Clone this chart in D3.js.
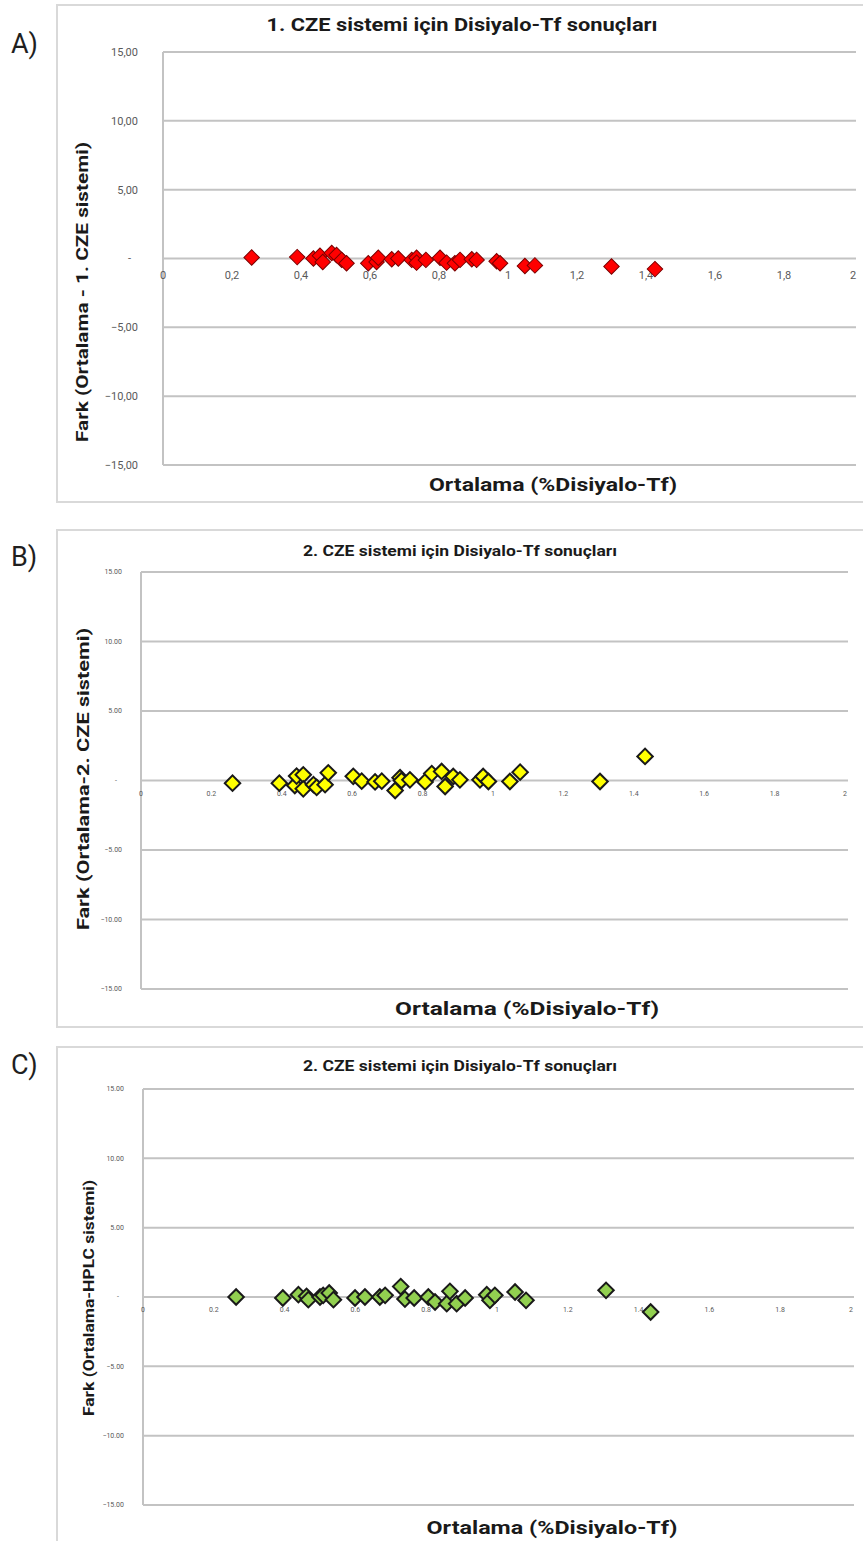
<!DOCTYPE html>
<html lang="tr">
<head>
    <meta charset="UTF-8">
    <script src="https://d3js.org/d3.v7.min.js"></script>
    <title>Disiyalo-Tf fark grafikleri</title>
    <style>
        body { margin: 0; background: #fff; }
        text { font-family: Roboto, "Open Sans", sans-serif; }
    </style>
</head>
<body>
    <div id="chart"></div>
    <script>
        // Data
        const yTicks = [-15, -10, -5, 0, 5, 10, 15];
        const xTicks = [0, 0.2, 0.4, 0.6, 0.8, 1, 1.2, 1.4, 1.6, 1.8, 2];

        const xA = [0.257, 0.389, 0.436, 0.455, 0.463, 0.489, 0.503, 0.518, 0.532, 0.595, 0.619, 0.624, 0.663, 0.682, 0.721,
            0.735, 0.735, 0.762, 0.803, 0.822, 0.846, 0.861, 0.895, 0.909, 0.967, 0.977, 1.049, 1.078, 1.300, 1.426];
        const yA = [0.07, 0.10, 0.00, 0.20, -0.25, 0.40, 0.25, -0.10, -0.35, -0.35, -0.25, 0.05, -0.05, 0.00, -0.10,
            0.05, -0.30, -0.10, 0.05, -0.30, -0.35, -0.10, -0.05, -0.10, -0.20, -0.35, -0.55, -0.50, -0.58, -0.77];

        const xB = [0.26, 0.393, 0.437, 0.442, 0.461, 0.461, 0.49, 0.499, 0.523, 0.532, 0.603, 0.627, 0.665, 0.684, 0.722,
            0.736, 0.74, 0.764, 0.807, 0.826, 0.854, 0.864, 0.887, 0.906, 0.963, 0.972, 0.987, 1.048, 1.077, 1.304, 1.432];
        const yB = [-0.19, -0.19, -0.36, 0.32, 0.41, -0.6, -0.3, -0.5, -0.3, 0.55, 0.3, -0.05, -0.1, -0.05, -0.72,
            0.2, 0.0, 0.05, -0.1, 0.5, 0.65, -0.43, 0.29, 0.05, 0.05, 0.29, -0.07, -0.07, 0.6, -0.07, 1.73];

        const xC = [0.263, 0.395, 0.439, 0.462, 0.467, 0.5, 0.509, 0.526, 0.538, 0.599, 0.627, 0.669, 0.684, 0.728, 0.74,
            0.766, 0.806, 0.825, 0.858, 0.867, 0.886, 0.91, 0.971, 0.98, 0.994, 1.051, 1.082, 1.308, 1.434];
        const yC = [0, -0.07, 0.17, 0.05, -0.19, 0, 0.12, 0.29, -0.19, -0.07, 0, 0, 0.12, 0.75, -0.15,
            -0.07, 0, -0.36, -0.48, 0.41, -0.48, -0.07, 0.17, -0.24, 0.12, 0.36, -0.24, 0.48, -1.08];

        const width = 863;
        const height = 1541;

        // Panel layout (positions and styles only)
        const panels = [
            {
                label: "A)", labelY: 53,
                title: "1. CZE sistemi için Disiyalo-Tf sonuçları",
                yTitle: "Fark (Ortalama - 1. CZE sistemi)",
                xs: xA, ys: yA,
                frame: [57, 5, 820, 497],
                plot: { left: 163, right: 853, top: 52, bottom: 465 },
                titleY: 31, titleX: 462, titleLen: 391, titleSize: 18,
                yTitleX: 88, yTitleY: 292, yTitleLen: 300, yTitleSize: 17,
                xTitleX: 553, xTitleY: 491, xTitleLen: 248,
                tickSize: 11, tickDec: ",", tickGap: 25, zeroGap: 32, xLabelDy: 20,
                fill: "#ff0000", stroke: "#7a0000", strokeW: 1
            },
            {
                label: "B)", labelY: 566,
                title: "2. CZE sistemi için Disiyalo-Tf sonuçları",
                yTitle: "Fark (Ortalama-2. CZE sistemi)",
                xs: xB, ys: yB,
                frame: [57, 530, 820, 497],
                plot: { left: 141, right: 845, top: 572, bottom: 989 },
                titleY: 556, titleX: 460, titleLen: 314, titleSize: 14,
                yTitleX: 89, yTitleY: 779, yTitleLen: 302, yTitleSize: 17,
                xTitleX: 527, xTitleY: 1015, xTitleLen: 264,
                tickSize: 7, tickDec: ".", tickGap: 19, zeroGap: 24, xLabelDy: 15,
                fill: "#ffff00", stroke: "#1a1a1a", strokeW: 2
            },
            {
                label: "C)", labelY: 1074,
                title: "2. CZE sistemi için Disiyalo-Tf sonuçları",
                yTitle: "Fark (Ortalama-HPLC sistemi)",
                xs: xC, ys: yC,
                frame: [57, 1047, 820, 510],
                plot: { left: 143, right: 851, top: 1089, bottom: 1505 },
                titleY: 1071, titleX: 460, titleLen: 314, titleSize: 14,
                yTitleX: 94, yTitleY: 1298, yTitleLen: 236, yTitleSize: 14.5,
                xTitleX: 552, xTitleY: 1534, xTitleLen: 251,
                tickSize: 7, tickDec: ".", tickGap: 19, zeroGap: 24, xLabelDy: 15,
                fill: "#92d050", stroke: "#1a1a1a", strokeW: 2
            }
        ];

        const svg = d3.select("#chart")
            .append("svg")
            .attr("width", width)
            .attr("height", height);

        svg.append("rect")
            .attr("width", width)
            .attr("height", height)
            .attr("fill", "#fff");

        const diamond = d3.symbol().type(d3.symbolSquare).size(120);

        panels.forEach(p => {
            const g = svg.append("g");

            // Frame of the chart area
            g.append("rect")
                .attr("x", p.frame[0])
                .attr("y", p.frame[1])
                .attr("width", p.frame[2])
                .attr("height", p.frame[3])
                .attr("fill", "#fff")
                .attr("stroke", "#d9d9d9")
                .attr("stroke-width", 2);

            // Panel letter
            svg.append("text")
                .attr("x", 11)
                .attr("y", p.labelY)
                .style("font-size", "27px")
                .style("fill", "#1f1f1f")
                .text(p.label);

            const x = d3.scaleLinear().domain([0, 2]).range([p.plot.left, p.plot.right]);
            const y = d3.scaleLinear().domain([-15, 15]).range([p.plot.bottom, p.plot.top]);

            const fmt = v => v === 0 ? "-" : d3.format(".2f")(v).replace(".", p.tickDec);
            const fmtX = v => d3.format("~g")(v).replace(".", p.tickDec);

            // Horizontal gridlines
            g.selectAll(".grid")
                .data(yTicks)
                .enter().append("line")
                .attr("x1", p.plot.left)
                .attr("x2", p.plot.right + 3)
                .attr("y1", d => y(d))
                .attr("y2", d => y(d))
                .attr("stroke", "#c3c3c3")
                .attr("stroke-width", 2);

            // Vertical axis line
            g.append("line")
                .attr("x1", x(0))
                .attr("x2", x(0))
                .attr("y1", y(15))
                .attr("y2", y(-15))
                .attr("stroke", "#c3c3c3")
                .attr("stroke-width", 2);

            // Y tick labels
            g.selectAll(".ytick")
                .data(yTicks)
                .enter().append("text")
                .attr("x", d => d === 0 ? p.plot.left - p.zeroGap : p.plot.left - p.tickGap)
                .attr("y", d => y(d))
                .attr("dy", "0.35em")
                .attr("text-anchor", "end")
                .style("font-size", p.tickSize + "px")
                .style("fill", "#595959")
                .text(fmt);

            // X tick labels (sit on the zero line)
            g.selectAll(".xtick")
                .data(xTicks)
                .enter().append("text")
                .attr("x", d => x(d))
                .attr("y", y(0) + p.xLabelDy)
                .attr("text-anchor", "middle")
                .style("font-size", p.tickSize + "px")
                .style("fill", "#595959")
                .text(fmtX);

            // Titles
            g.append("text")
                .attr("x", p.titleX)
                .attr("y", p.titleY)
                .attr("text-anchor", "middle")
                .attr("textLength", p.titleLen)
                .attr("lengthAdjust", "spacingAndGlyphs")
                .style("font-size", p.titleSize + "px")
                .style("font-weight", "bold")
                .style("fill", "#1a1a1a")
                .text(p.title);

            g.append("text")
                .attr("transform", `translate(${p.yTitleX},${p.yTitleY}) rotate(-90)`)
                .attr("text-anchor", "middle")
                .attr("textLength", p.yTitleLen)
                .attr("lengthAdjust", "spacingAndGlyphs")
                .style("font-size", p.yTitleSize + "px")
                .style("font-weight", "bold")
                .style("fill", "#1a1a1a")
                .text(p.yTitle);

            g.append("text")
                .attr("x", p.xTitleX)
                .attr("y", p.xTitleY)
                .attr("text-anchor", "middle")
                .attr("textLength", p.xTitleLen)
                .attr("lengthAdjust", "spacingAndGlyphs")
                .style("font-size", "18px")
                .style("font-weight", "bold")
                .style("fill", "#1a1a1a")
                .text("Ortalama (%Disiyalo-Tf)");

            // Points
            const pts = p.xs.map((v, i) => ({ x: v, y: p.ys[i] }));
            g.selectAll(".pt")
                .data(pts)
                .enter().append("path")
                .attr("d", diamond)
                .attr("transform", d => `translate(${x(d.x)},${y(d.y)}) rotate(45)`)
                .attr("fill", p.fill)
                .attr("stroke", p.stroke)
                .attr("stroke-width", p.strokeW);
        });
    </script>
</body>
</html>
